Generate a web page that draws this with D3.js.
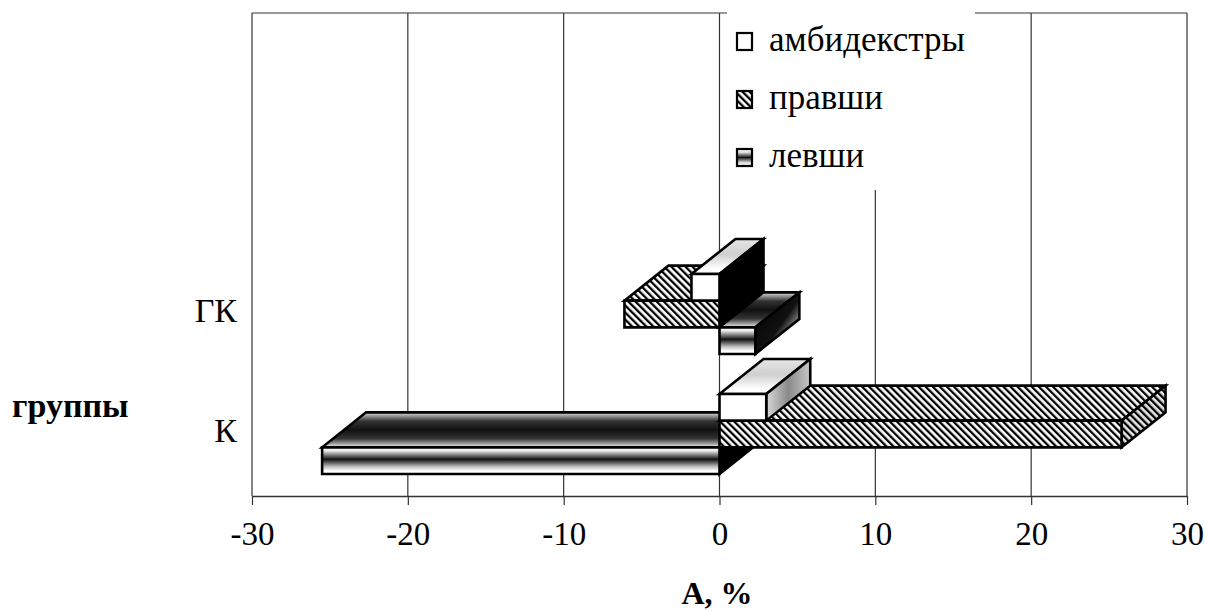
<!DOCTYPE html>
<html>
<head>
<meta charset="utf-8">
<script src="https://cdn.jsdelivr.net/npm/d3@7"></script>
<style>
  html, body { margin: 0; padding: 0; background: #fff; }
  svg { display: block; }
  text { font-family: "Liberation Serif", "Times New Roman", serif; fill: #000; }
</style>
</head>
<body>
<svg id="chart" width="1208" height="612"></svg>
<script>
// Asymmetry index A (%) by group and handedness
const categories = ["ГК", "К"];
const seriesNames = ["амбидекстры", "правши", "левши"];
const ambidextrous = [-1.8, 3.0];
const rightHanded = [-6.1, 25.8];
const leftHanded = [2.3, -25.5];
const xTicks = [-30, -20, -10, 0, 10, 20, 30];
const xTickLabels = ["-30", "-20", "-10", "0", "10", "20", "30"];
const xTitle = "А, %";
const yTitle = "группы";

const seriesValues = [ambidextrous, rightHanded, leftHanded];

const svg = d3.select("#chart");
const plot = { left: 252, right: 1187, top: 13, bottom: 496 };
const depth = { dx: 44, dy: 35 };

const x = d3.scaleLinear().domain([-30, 30]).range([plot.left, plot.right]);
const y = d3.scaleBand().domain(categories).range([254, 494])
  .paddingInner(1 / 3).paddingOuter(1 / 6);
const ySeries = d3.scaleBand().domain(seriesNames).range([0, y.bandwidth()]);

// ---- fills ----
const defs = svg.append("defs");

function linGrad(id, x1, y1, x2, y2, stops) {
  const g = defs.append("linearGradient").attr("id", id)
    .attr("x1", x1).attr("y1", y1).attr("x2", x2).attr("y2", y2);
  stops.forEach(([o, c]) => g.append("stop").attr("offset", o).attr("stop-color", c));
}

function hatch(id, bg) {
  const p = defs.append("pattern").attr("id", id)
    .attr("patternUnits", "userSpaceOnUse")
    .attr("width", 5).attr("height", 10)
    .attr("patternTransform", "rotate(-45)");
  p.append("rect").attr("width", 5).attr("height", 10).attr("fill", bg);
  p.append("rect").attr("width", 2.3).attr("height", 10).attr("fill", "#000");
}

hatch("hatchWhite", "#fff");
hatch("hatchGray", "#e4e4e4");

linGrad("leftFront", 0, 0, 0, 1, [[0, "#fff"], [0.12, "#eee"], [0.45, "#111"], [0.72, "#bbb"], [0.88, "#fff"], [1, "#fff"]]);
linGrad("leftTop", 0, 0, 0, 1, [[0, "#e0e0e0"], [0.25, "#333"], [0.5, "#111"], [0.75, "#333"], [1, "#eee"]]);
linGrad("leftSide", 0, 0, 1, 1, [[0, "#000"], [0.55, "#111"], [0.8, "#bbb"], [0.92, "#444"], [1, "#000"]]);
linGrad("ambTop", 0, 0, 0, 1, [[0, "#e6e6e6"], [0.45, "#cfcfcf"], [0.85, "#fff"], [1, "#fff"]]);
linGrad("ambSide", 0, 0, 1, 0, [[0, "#d8d8d8"], [0.5, "#8a8a8a"], [1, "#c8c8c8"]]);
linGrad("legendLeft", 0, 0, 0, 1, [[0, "#fff"], [0.2, "#ddd"], [0.5, "#111"], [0.8, "#ddd"], [1, "#fff"]]);

const faceFill = {
  "амбидекстры": { front: "#fff", top: "url(#ambTop)", sidePos: "url(#ambSide)", sideNeg: "#000" },
  "правши": { front: "url(#hatchWhite)", top: "url(#hatchWhite)", sidePos: "url(#hatchGray)", sideNeg: "#000" },
  "левши": { front: "url(#leftFront)", top: "url(#leftTop)", sidePos: "url(#leftSide)", sideNeg: "#000" }
};
const legendFill = { "амбидекстры": "#fff", "правши": "url(#hatchWhite)", "левши": "url(#legendLeft)" };

// ---- frame and gridlines ----
const grid = svg.append("g");
grid.selectAll("line.grid").data(xTicks).join("line")
  .attr("x1", d => x(d)).attr("x2", d => x(d))
  .attr("y1", plot.top).attr("y2", plot.bottom)
  .attr("stroke", "#333").attr("stroke-width", 1.2);
grid.append("line")
  .attr("x1", plot.left).attr("x2", plot.right)
  .attr("y1", plot.top).attr("y2", plot.top)
  .attr("stroke", "#333").attr("stroke-width", 1.2);

// ---- x axis ----
const axis = svg.append("g").attr("transform", `translate(0,${plot.bottom})`)
  .call(d3.axisBottom(x).tickValues(xTicks)
    .tickFormat((d, i) => xTickLabels[i])
    .tickSize(9).tickSizeOuter(0));
axis.select(".domain").attr("stroke", "#333").attr("stroke-width", 1.6);
axis.selectAll(".tick line").attr("stroke", "#333").attr("stroke-width", 1.2);
axis.selectAll(".tick text")
  .attr("y", 49).attr("dy", 0)
  .style("font-family", "'Liberation Serif', serif")
  .style("font-size", "33px").attr("fill", "#000");

// ---- legend ----
const legend = svg.append("g");
legend.append("rect").attr("x", 727).attr("y", 0).attr("width", 248).attr("height", 190).attr("fill", "#fff");
const legendRows = legend.selectAll("g.row").data(seriesNames).join("g")
  .attr("transform", (d, i) => `translate(737,${51 + i * 58})`);
legendRows.append("rect")
  .attr("x", 0).attr("y", -18).attr("width", 15).attr("height", 17)
  .attr("fill", d => legendFill[d]).attr("stroke", "#000").attr("stroke-width", 2.2);
legendRows.append("text")
  .attr("x", 32).attr("y", 0)
  .style("font-size", "35px")
  .text(d => d);

// ---- 3D bars ----
const bars = [];
categories.forEach((cat, ci) => {
  seriesNames.forEach((s, si) => {
    const v = seriesValues[si][ci];
    bars.push({ cat, series: s, value: v, order: si });
  });
});
// negative bars first, then positive; within each, lower bars first
bars.sort((a, b) => {
  const na = a.value < 0 ? 0 : 1, nb = b.value < 0 ? 0 : 1;
  if (na !== nb) return na - nb;
  return b.order - a.order;
});

const barLayer = svg.append("g");
const lineStyle = sel => sel.attr("stroke", "#000").attr("stroke-width", 2.6).attr("stroke-linejoin", "miter");

bars.forEach(b => {
  const x0 = Math.min(x(0), x(b.value));
  const x1 = Math.max(x(0), x(b.value));
  const y0 = y(b.cat) + ySeries(b.series);
  const y1 = y0 + ySeries.bandwidth();
  const { dx, dy } = depth;
  const f = faceFill[b.series];
  const g = barLayer.append("g");
  const poly = pts => "M" + pts.map(p => p.join(",")).join("L") + "Z";
  g.append("path")
    .attr("d", poly([[x0, y0], [x1, y0], [x1 + dx, y0 - dy], [x0 + dx, y0 - dy]]))
    .attr("fill", f.top).call(lineStyle);
  g.append("path")
    .attr("d", poly([[x1, y0], [x1 + dx, y0 - dy], [x1 + dx, y1 - dy], [x1, y1]]))
    .attr("fill", b.value < 0 ? f.sideNeg : f.sidePos).call(lineStyle);
  g.append("path")
    .attr("d", poly([[x0, y0], [x1, y0], [x1, y1], [x0, y1]]))
    .attr("fill", f.front).call(lineStyle);
});

// ---- category labels and titles ----
svg.append("g").selectAll("text").data(categories).join("text")
  .attr("x", 237).attr("y", d => y(d) + y.bandwidth() / 2 + 8)
  .attr("text-anchor", "end")
  .style("font-size", "34px")
  .text(d => d);

svg.append("text").attr("x", 12).attr("y", 417)
  .style("font-size", "34px").style("font-weight", "bold")
  .text(yTitle);

svg.append("text").attr("x", 717).attr("y", 604)
  .attr("text-anchor", "middle")
  .style("font-size", "32px").style("font-weight", "bold")
  .text(xTitle);
</script>
</body>
</html>
